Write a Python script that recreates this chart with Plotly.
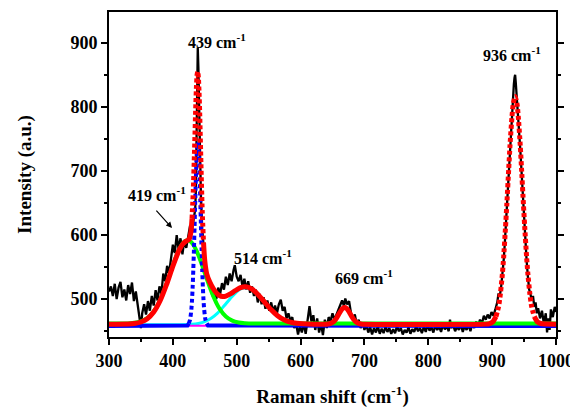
import plotly.graph_objects as go

# ---------------- data ----------------
raw_x = [300, 303, 306, 309, 312, 315, 318, 321, 324, 327, 330, 333, 336, 339, 342, 345, 348, 350, 352, 355,
         358, 361, 364, 367, 370, 373, 376, 379, 382, 385, 388, 391, 394, 397, 400, 403, 406, 409, 412, 415,
         418, 421, 424, 427, 430, 433, 435, 436, 437, 438, 439, 440, 441, 442, 443, 444, 446, 448, 450, 453,
         456, 459, 462, 465, 468, 471, 474, 477, 480, 483, 486, 489, 492, 495, 497, 500, 503, 506, 509, 512,
         515, 518, 521, 524, 527, 530, 533, 536, 539, 542, 545, 548, 551, 554, 557, 560, 563, 566, 569, 572,
         575, 578, 581, 584, 587, 590, 593, 596, 599, 602, 605, 608, 611, 614, 617, 620, 623, 626, 629, 632,
         635, 638, 641, 644, 647, 650, 653, 656, 659, 662, 665, 668, 670, 673, 676, 679, 682, 685, 688, 691,
         694, 697, 700, 703, 706, 709, 712, 715, 718, 721, 724, 727, 730, 733, 736, 739, 742, 745, 748, 751,
         754, 757, 760, 763, 766, 769, 772, 775, 778, 781, 784, 787, 790, 793, 796, 799, 802, 805, 808, 811,
         814, 817, 820, 823, 826, 829, 832, 834, 836, 839, 842, 845, 848, 851, 854, 857, 860, 863, 866, 869,
         872, 875, 878, 881, 884, 887, 890, 893, 896, 899, 902, 905, 908, 910, 912, 914, 916, 918, 920, 922,
         924, 926, 928, 930, 932, 934, 935, 936, 937, 938, 940, 942, 944, 946, 948, 950, 952, 954, 956, 958,
         960, 962, 964, 966, 968, 970, 972, 975, 978, 981, 984, 986, 988, 990, 992, 995, 998, 1000]
raw_y = [512, 520, 505, 524, 500, 518, 527, 503, 515, 498, 522, 508, 526, 497, 512, 488, 470, 455, 478, 492,
         476, 497, 482, 505, 490, 514, 498, 520, 508, 540, 528, 552, 540, 560, 585, 572, 600, 578, 595, 570,
         592, 580, 598, 615, 608, 625, 640, 670, 740, 830, 892, 860, 790, 730, 690, 660, 610, 585, 560, 540,
         528, 515, 505, 512, 500, 518, 508, 525, 515, 535, 522, 540, 528, 545, 553, 535, 528, 538, 520, 532,
         515, 528, 510, 520, 505, 515, 495, 508, 492, 503, 485, 498, 482, 495, 480, 490, 478, 492, 499, 482,
         488, 470, 478, 466, 472, 455, 462, 445, 458, 448, 462, 446, 470, 489, 465, 475, 452, 470, 448, 462,
         444, 468, 455, 472, 466, 478, 468, 475, 482, 490, 498, 489, 501, 492, 497, 478, 470, 476, 460, 468,
         455, 464, 452, 460, 448, 456, 445, 455, 448, 458, 446, 454, 447, 457, 449, 455, 446, 453, 447, 458,
         450, 455, 445, 452, 448, 456, 446, 453, 449, 458, 450, 455, 447, 457, 449, 460, 451, 456, 448, 459,
         452, 457, 449, 460, 453, 458, 450, 468, 455, 459, 450, 457, 452, 461, 449, 458, 452, 460, 450, 462,
         455, 465, 458, 468, 462, 474, 468, 476, 470, 480, 474, 484, 495, 509, 505, 518, 535, 560, 590, 625,
         660, 700, 740, 780, 810, 835, 845, 850, 838, 825, 800, 770, 735, 700, 660, 625, 590, 560, 535, 515,
         508, 498, 505, 488, 495, 478, 486, 470, 482, 462, 478, 448, 470, 452, 484, 472, 488, 480]

# cumulative fit (red)
fit_x = [300, 330, 340, 350, 360, 370, 380, 390, 400, 410, 415, 420, 425, 428, 430, 432, 434, 436, 437, 438,
         439, 440, 441, 442, 444, 446, 448, 450, 453, 458, 463, 468, 473, 478, 483, 490, 497, 505, 514, 524,
         534, 544, 554, 564, 574, 584, 594, 604, 620, 643, 647, 651, 654, 657, 660, 663, 666, 669, 672, 675,
         678, 681, 684, 687, 691, 695, 700, 890, 896, 901, 906, 910, 913, 916, 918, 921, 923, 926, 928, 931,
         933, 936, 939, 941, 944, 946, 949, 951, 954, 956, 959, 962, 966, 971, 976, 1000]
fit_y = [461, 461.3, 462.2, 464.4, 469.5, 479.9, 497.5, 522.6, 551.5, 576.8, 585.4, 590.2, 592.8, 603.2, 625.2,
         669, 734, 805, 832.8, 850.4, 855.1, 845.6, 823.3, 790.8, 710.7, 636.5, 588.5, 559.4, 539.6, 526.2,
         516.8, 509.9, 505.7, 504.1, 504.8, 508.2, 512.8, 517.6, 519.4, 515.6, 506.7, 495, 483.4, 474.1, 467.8,
         464.1, 462.3, 461.5, 461, 461.4, 462.3, 464.5, 467.5, 471.7, 476.8, 481.8, 485.6, 487, 485.6, 481.8,
         476.8, 471.7, 467.5, 464.5, 462.3, 461.4, 461, 461.1, 462, 464.5, 473, 488, 509, 539, 565, 613,
         648, 704, 740, 784, 804, 816, 804, 784, 740, 704, 648, 613, 565, 539, 509, 488, 473, 464.5, 462, 461]

# 419 cm-1 component (green)
p419_x = [300, 323, 333, 343, 353, 363, 373, 378, 383, 388, 393, 398, 403, 408, 413, 418, 423, 428, 433, 438,
          443, 448, 453, 458, 463, 468, 473, 483, 493, 503, 513, 530, 1000]
p419_y = [462, 462.1, 462.5, 463.6, 466.5, 473, 485.4, 494.4, 505.4, 518.2, 532, 546.6, 560.8, 573.4, 583.4,
          589.8, 592, 589.8, 583.4, 573.4, 560.8, 546.6, 532, 518.2, 505.4, 494.4, 485.4, 473, 466.5, 463.6,
          462.5, 462, 462]

# 439 cm-1 component (blue)
p439_x = [300, 423, 425, 427, 429, 430, 431, 432, 433, 434, 435, 436, 437, 438, 439, 440, 441, 442, 443, 444,
          445, 446, 447, 448, 449, 451, 453, 455, 1000]
p439_y = [458, 459, 462.2, 468.2, 484.1, 498.5, 518.6, 545, 577.1, 613.6, 652.1, 688.3, 718.2, 738, 745, 738,
          718.2, 688.3, 652.1, 613.6, 577.1, 545, 518.6, 498.5, 484.1, 468.2, 462.2, 459, 458]

# 514 cm-1 component (cyan)
p514_x = [300, 430, 440, 450, 460, 470, 480, 490, 500, 507, 514, 521, 528, 538, 548, 558, 568, 578, 588, 598,
          620, 1000]
p514_y = [460, 460.9, 462.2, 465.1, 470.2, 478.3, 489.2, 501.2, 511.6, 516.3, 518, 516.3, 511.6, 501.2, 489.2,
          478.3, 470.2, 465.1, 462.2, 460.9, 460, 460]

# 669 cm-1 component (magenta)
p669_x = [300, 640, 643, 647, 651, 654, 657, 660, 663, 666, 669, 672, 675, 678, 681, 684, 687, 691, 695, 700,
          1000]
p669_y = [459, 459, 459.4, 460.3, 462.5, 465.5, 469.7, 474.8, 479.8, 483.6, 485, 483.6, 479.8, 474.8, 469.7,
          465.5, 462.5, 460.3, 459.4, 459, 459]

peak_labels = ["419", "439", "514", "669", "936"]
label_x = [327, 421, 493, 650, 882]
label_y = [664, 903, 566, 535, 883]

x_ticks = [300, 400, 500, 600, 700, 800, 900, 1000]
y_ticks = [500, 600, 700, 800, 900]

FONT = "Liberation Serif, Times New Roman, serif"


def pieces(xs, ys, ranges):
    """split a curve into the parts inside the given x ranges and the rest"""
    dx, dy = [], []
    for lo, hi in ranges:
        for x, y in zip(xs, ys):
            if lo <= x <= hi:
                dx.append(x)
                dy.append(y)
        dx.append(None)
        dy.append(None)
    sx, sy = [], []
    prev_in = False
    for x, y in zip(xs, ys):
        if any(lo < x < hi for lo, hi in ranges):
            if not prev_in:
                sx.append(None)
                sy.append(None)
            prev_in = True
        else:
            sx.append(x)
            sy.append(y)
            prev_in = False
    return sx, sy, dx, dy


fig = go.Figure()

fig.add_trace(go.Scatter(x=raw_x, y=raw_y, mode="lines",
                         line=dict(color="black", width=2.3), hoverinfo="skip"))
fig.add_trace(go.Scatter(x=p514_x, y=p514_y, mode="lines",
                         line=dict(color="#00FFFF", width=3, shape="spline"), hoverinfo="skip"))
fig.add_trace(go.Scatter(x=p669_x, y=p669_y, mode="lines",
                         line=dict(color="#FF00FF", width=2, shape="spline"), hoverinfo="skip"))

bsx, bsy, bdx, bdy = pieces(p439_x, p439_y, [(425, 453)])
fig.add_trace(go.Scatter(x=bsx, y=bsy, mode="lines",
                         line=dict(color="#0000FF", width=4), hoverinfo="skip"))
fig.add_trace(go.Scatter(x=p419_x, y=p419_y, mode="lines",
                         line=dict(color="#00FF00", width=4, shape="spline"), hoverinfo="skip"))
fig.add_trace(go.Scatter(x=bdx, y=bdy, mode="lines",
                         line=dict(color="#0000FF", width=4, dash="4px,3px", shape="spline", smoothing=0.6),
                         hoverinfo="skip"))

rsx, rsy, rdx, rdy = pieces(fit_x, fit_y, [(430, 448), (906, 966)])
fig.add_trace(go.Scatter(x=rsx, y=rsy, mode="lines",
                         line=dict(color="#FF0000", width=5, shape="spline", smoothing=0.6), hoverinfo="skip"))
fig.add_trace(go.Scatter(x=rdx, y=rdy, mode="lines",
                         line=dict(color="#FF0000", width=5, dash="4px,2.5px", shape="spline", smoothing=0.6),
                         hoverinfo="skip"))

annotations = []
for lab, lx, ly in zip(peak_labels, label_x, label_y):
    annotations.append(dict(x=lx, y=ly, xref="x", yref="y", text=f"<b>{lab} cm<sup>-1</sup></b>",
                            showarrow=False, xanchor="left", yanchor="middle",
                            font=dict(family=FONT, size=16, color="black")))
annotations.append(dict(x=398.7, y=611, xref="x", yref="y", text="", showarrow=True,
                        ax=-17, ay=-19, arrowhead=2, arrowsize=1, arrowwidth=1.2, arrowcolor="black"))

# the page body adds an 8 px offset at top-left, so the figure is 8 px smaller
fig.update_layout(
    width=570, height=400,
    margin=dict(l=101, r=22, t=4, b=71),
    paper_bgcolor="white", plot_bgcolor="white",
    showlegend=False,
    annotations=annotations,
    font=dict(family=FONT, color="black"),
)
fig.update_xaxes(
    range=[300, 1000], tickvals=x_ticks, ticktext=[f"<b>{v}</b>" for v in x_ticks],
    ticks="outside", ticklen=6, tickwidth=1.5, automargin=False,
    tickcolor="black", showline=True, linewidth=2, linecolor="black", mirror=True,
    showgrid=False, zeroline=False,
    minor=dict(dtick=50, tick0=300, ticks="outside", ticklen=3, tickwidth=1.5, tickcolor="black"),
    tickfont=dict(family=FONT, size=18, color="black"),
    title=dict(text="<b>Raman shift (cm<sup>-1</sup>)</b>", standoff=30,
               font=dict(family=FONT, size=19, color="black")),
)
fig.update_yaxes(
    range=[441, 948], tickvals=y_ticks, ticktext=[f"<b>{v}</b>" for v in y_ticks],
    ticks="outside", ticklen=6, tickwidth=1.5, automargin=False,
    tickcolor="black", showline=True, linewidth=2, linecolor="black", mirror="ticks",
    showgrid=False, zeroline=False,
    minor=dict(dtick=50, tick0=450, ticks="outside", ticklen=3, tickwidth=1.5, tickcolor="black"),
    tickfont=dict(family=FONT, size=18, color="black"),
    title=dict(text="<b>Intensity (a.u.)</b>", standoff=34,
               font=dict(family=FONT, size=19, color="black")),
)

fig.write_html("out.html")
